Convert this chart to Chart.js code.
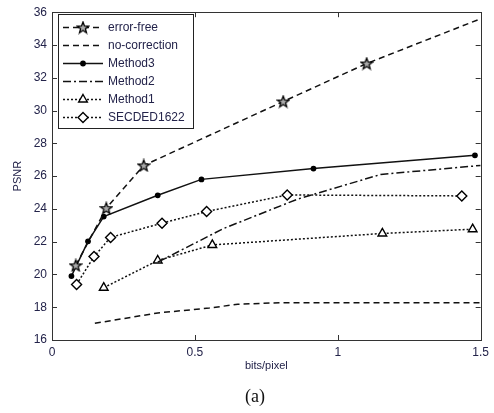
<!DOCTYPE html>
<html>
<head>
<meta charset="utf-8">
<script src="https://cdn.jsdelivr.net/npm/chart.js@4/dist/chart.umd.min.js"></script>
<style>
html,body{margin:0;padding:0;background:#fff;}
canvas{display:block;}
</style>
</head>
<body>
<canvas id="c" width="494" height="413"></canvas>
<script>
// ---- data ----
const seriesNames = ["error-free","no-correction","Method3","Method2","Method1","SECDED1622"];
const errorFreeX = [0.083, 0.19, 0.321, 0.809, 1.101, 1.5];
const errorFreeY = [20.55, 24.04, 26.65, 30.55, 32.87, 35.6];
const noCorrX = [0.15, 0.37, 0.55, 0.65, 0.80, 1.5];
const noCorrY = [17.02, 17.65, 17.95, 18.18, 18.28, 18.28];
const method3X = [0.068, 0.126, 0.181, 0.37, 0.523, 0.915, 1.48];
const method3Y = [19.9, 22.02, 23.53, 24.83, 25.8, 26.46, 27.27];
const method2X = [0.37, 0.60, 0.86, 1.15, 1.5];
const method2Y = [20.75, 22.8, 24.6, 26.1, 26.65];
const method1X = [0.181, 0.37, 0.561, 1.156, 1.472];
const method1Y = [19.19, 20.85, 21.8, 22.5, 22.76];
const secdedX = [0.086, 0.147, 0.205, 0.385, 0.541, 0.823, 1.434];
const secdedY = [19.39, 21.09, 22.26, 23.13, 23.84, 24.85, 24.79];
const xTicks = [0, 0.5, 1, 1.5];
const xTickLabels = ["0", "0.5", "1", "1.5"];
const yMin = 16, yMax = 36, yStep = 2;

const TXT = '#23234a';
const LINE = '#111';

function pts(xs, ys){ return xs.map((x,i)=>({x:x, y:ys[i]})); }

function makeStar(){
  const s = 14, c = document.createElement('canvas');
  c.width = s; c.height = s;
  const g = c.getContext('2d');
  const R = 6, r = 2.5, cx = s/2, cy = s/2+0.5;
  g.beginPath();
  for (let i=0;i<10;i++){
    const a = -Math.PI/2 + i*Math.PI/5;
    const rr = i%2===0 ? R : r;
    const px = cx + rr*Math.cos(a), py = cy + rr*Math.sin(a);
    if (i===0) g.moveTo(px,py); else g.lineTo(px,py);
  }
  g.closePath();
  g.fillStyle = '#aaa';
  g.fill();
  g.lineWidth = 1.3;
  g.strokeStyle = '#000';
  g.stroke();
  return c;
}
const starImg = makeStar();

const datasets = [
  {label: seriesNames[0], data: pts(errorFreeX, errorFreeY), borderDash:[6,4], pointStyle: starImg,
   pointRadius: errorFreeX.map((x,i)=> i===errorFreeX.length-1 ? 0 : 6)},
  {label: seriesNames[1], data: pts(noCorrX, noCorrY), borderDash:[6,4], pointRadius:0, pointStyle:false},
  {label: seriesNames[2], data: pts(method3X, method3Y), borderDash:[], pointStyle:'circle', pointRadius:2.2,
   pointBackgroundColor:'#000'},
  {label: seriesNames[3], data: pts(method2X, method2Y), borderDash:[8,3,2,3], pointRadius:0, pointStyle:false},
  {label: seriesNames[4], data: pts(method1X, method1Y), borderDash:[2,2], pointStyle:'triangle', pointRadius:5,
   pointBackgroundColor:'#fff'},
  {label: seriesNames[5], data: pts(secdedX, secdedY), borderDash:[2,2], pointStyle:'rectRot', pointRadius:5,
   pointBackgroundColor:'#fff'}
].map(d => Object.assign({
  showLine:true, borderColor:LINE, borderWidth:1.5, tension:0, fill:false,
  pointBorderColor:'#000', pointBorderWidth:1.4, pointBackgroundColor: d.pointBackgroundColor || '#fff'
}, d));

function drawMarker(ctx, ds, x, y){
  const st = ds.pointStyle;
  if (!st) return;
  ctx.save();
  ctx.setLineDash([]);
  if (st instanceof HTMLCanvasElement){
    ctx.drawImage(st, x - st.width/2, y - st.height/2);
  } else {
    const r = Array.isArray(ds.pointRadius) ? ds.pointRadius[0] : ds.pointRadius;
    ctx.fillStyle = ds.pointBackgroundColor;
    ctx.strokeStyle = '#000';
    ctx.lineWidth = ds.pointBorderWidth;
    if (Chart.helpers && Chart.helpers.drawPoint){
      Chart.helpers.drawPoint(ctx, {pointStyle: st, radius: r, borderWidth: ds.pointBorderWidth, rotation:0}, x, y);
    } else {
      ctx.beginPath(); ctx.arc(x,y,r,0,Math.PI*2); ctx.fill(); ctx.stroke();
    }
  }
  ctx.restore();
}

const framePlugin = {
  id:'frame',
  afterDatasetsDraw(chart){
    const {ctx, chartArea:a, scales} = chart;
    ctx.save();
    ctx.setLineDash([]);
    ctx.strokeStyle = '#333';
    ctx.lineWidth = 1;
    ctx.strokeRect(Math.round(a.left)+0.5, Math.round(a.top)+0.5, Math.round(a.right-a.left), Math.round(a.bottom-a.top));
    // inward ticks
    const tl = 5;
    ctx.beginPath();
    scales.x.ticks.forEach(t => {
      const px = Math.round(scales.x.getPixelForValue(t.value)) + 0.5;
      ctx.moveTo(px, a.bottom); ctx.lineTo(px, a.bottom - tl);
      ctx.moveTo(px, a.top); ctx.lineTo(px, a.top + tl);
    });
    scales.y.ticks.forEach(t => {
      const py = Math.round(scales.y.getPixelForValue(t.value)) + 0.5;
      ctx.moveTo(a.left, py); ctx.lineTo(a.left + tl, py);
      ctx.moveTo(a.right, py); ctx.lineTo(a.right - tl, py);
    });
    ctx.stroke();

    // legend
    const lx = 58, ly = 14, lw = 135, lh = 114;
    ctx.fillStyle = '#fff';
    ctx.fillRect(lx, ly, lw, lh);
    ctx.strokeStyle = '#222';
    ctx.strokeRect(lx+0.5, ly+0.5, lw, lh);
    ctx.font = '12px "Liberation Sans", Arial, sans-serif';
    ctx.textBaseline = 'middle';
    ctx.textAlign = 'left';
    chart.data.datasets.forEach((ds, i) => {
      const y = 27.5 + i*18;
      ctx.save();
      ctx.strokeStyle = LINE;
      ctx.lineWidth = 1.5;
      ctx.setLineDash(ds.borderDash);
      ctx.beginPath(); ctx.moveTo(63, y); ctx.lineTo(103, y); ctx.stroke();
      ctx.restore();
      drawMarker(ctx, ds, 83, y);
      ctx.fillStyle = TXT;
      ctx.fillText(ds.label, 108, y);
    });

    // caption
    ctx.fillStyle = '#111';
    ctx.font = '18px "Liberation Serif", "Times New Roman", serif';
    ctx.textAlign = 'center';
    ctx.textBaseline = 'middle';
    ctx.fillText('(a)', 255, 397);
    ctx.restore();
  }
};

new Chart(document.getElementById('c'), {
  type:'scatter',
  data:{datasets},
  plugins:[framePlugin],
  options:{
    responsive:false,
    animation:false,
    devicePixelRatio:1,
    layout:{padding:{left:0, top:10, right:11, bottom:33}},
    plugins:{legend:{display:false}, tooltip:{enabled:false}},
    scales:{
      x:{
        type:'linear', min:0, max:1.5,
        afterBuildTicks(s){ s.ticks = xTicks.map(v=>({value:v})); },
        afterFit(s){ s.height = 40; },
        grid:{display:true, drawOnChartArea:false, drawTicks:false},
        border:{display:true, color:'#333'},
        ticks:{color:TXT, padding:5, font:{family:'"Liberation Sans", Arial, sans-serif', size:12},
               maxRotation:0, autoSkip:false,
               callback:(v)=>{ const i = xTicks.indexOf(v); return i>=0 ? xTickLabels[i] : String(v); }},
        title:{display:true, text:'bits/pixel', color:TXT, padding:{top:0,bottom:7},
               font:{family:'"Liberation Sans", Arial, sans-serif', size:11}}
      },
      y:{
        type:'linear', min:yMin, max:yMax,
        ticks:{stepSize:yStep, color:TXT, padding:5, font:{family:'"Liberation Sans", Arial, sans-serif', size:12}},
        afterFit(s){ s.width = 52; },
        grid:{display:true, drawOnChartArea:false, drawTicks:false},
        border:{display:true, color:'#333'},
        title:{display:true, text:'PSNR', color:TXT, padding:{top:11,bottom:0},
               font:{family:'"Liberation Sans", Arial, sans-serif', size:11}}
      }
    }
  }
});
</script>
</body>
</html>
